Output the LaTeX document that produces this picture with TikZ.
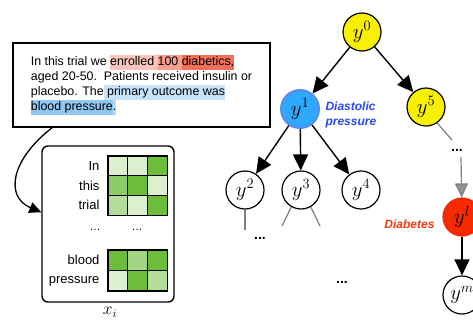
\documentclass[tikz,border=0pt]{standalone}
\usepackage{fontspec}
\setmainfont{Liberation Sans}
\usetikzlibrary{arrows.meta}

\definecolor{hlpink}{HTML}{F9C4BC}
\definecolor{hlsalmon}{HTML}{F7A08E}
\definecolor{hlred}{HTML}{F2705A}
\definecolor{hlblueA}{HTML}{C5E3FA}
\definecolor{hlblueB}{HTML}{8FC7F2}
\definecolor{hlblueC}{HTML}{B5DAF6}
\definecolor{nodeyellow}{HTML}{F8F000}
\definecolor{nodeblue}{HTML}{2EA8FA}
\definecolor{nodeblueedge}{HTML}{5A8CF0}
\definecolor{nodered}{HTML}{F52A00}
\definecolor{labelblue}{HTML}{2A46F5}
\definecolor{labelred}{HTML}{F53A10}
\definecolor{gA}{HTML}{DCEFCF}
\definecolor{gL}{HTML}{B3DE9A}
\definecolor{gM}{HTML}{8DCC66}
\definecolor{gN}{HTML}{A3D585}
\definecolor{gD}{HTML}{6BBD3A}

\newcommand{\hilite}[2]{{\setlength{\fboxsep}{0pt}\colorbox{#1}{\strut#2}}}

\begin{document}
\begin{tikzpicture}[x=1pt,y=-1pt,
  tnode/.style={circle, draw, line width=1.2pt, minimum size=38pt, inner sep=0pt, font=\fontsize{21}{21}\selectfont},
  arr/.style={-{Triangle[length=16pt,width=15pt]}, line width=1.4pt},
  stub/.style={draw=gray, line width=1.2pt},
  cell/.style={draw, line width=1.2pt},
  word/.style={anchor=east, font=\fontsize{13}{13}\selectfont},
  dots/.style={font=\fontsize{14}{14}\selectfont\bfseries}]
\useasboundingbox (0,0) rectangle (473,322);

% passage and its tail
\node (passage) [draw, line width=1.6pt, minimum width=257pt, minimum height=84pt, align=left, font=\fontsize{12.4}{15}\selectfont] at (141.5,85)
  {In this trial we \hilite{hlpink}{enrolled }\hilite{hlsalmon}{100 }\hilite{hlred}{diabetics,}\\
   aged 20-50.\ \ Patients received insulin or\\
   placebo. The\hilite{hlblueA}{ primary outcome was}\\
   \hilite{hlblueB}{blood pressure}\hilite{hlblueC}{.}};
\coordinate (tail) at (53,127);

% input matrix
\node (mtx) [draw, rounded corners=6pt, line width=1.4pt, minimum width=132pt, minimum height=156pt] at (108,224) {};
\foreach \x/\y/\c in {0/0/gA, 1/0/gA, 2/0/gD, 0/1/gM, 1/1/gD, 2/1/gA, 0/2/gL, 1/2/gA, 2/2/gD}
  \draw[cell, fill=\c] (108+19.7*\x, 156+19.7*\y) rectangle ++(19.7,19.7);
\foreach \x/\y/\c in {0/0/gD, 1/0/gN, 2/0/gD, 0/1/gA, 1/1/gD, 2/1/gL}
  \draw[cell, fill=\c] (108+19.7*\x, 250+20.5*\y) rectangle ++(19.7,20.5);
\node[word] (w-in) at (103,166) {In};
\node[word] (w-this) at (103,186) {this};
\node[word] (w-trial) at (103,205) {trial};
\node[word] (w-blood) at (103,260) {blood};
\node[word] (w-pressure) at (103,281) {pressure};
\node (dots-w) [font=\fontsize{11}{11}\selectfont] at (95,230) {\ldots};
\node (dots-v) [font=\fontsize{11}{11}\selectfont] at (137,230) {\ldots};
\node (xi) [font=\fontsize{18}{18}\selectfont, inner sep=1pt] at (110,312) {$x_i$};

\draw[line width=1.3pt, -{Triangle[length=12pt,width=11pt]}] (tail) .. controls (10,160) and (5,197) .. (mtx.170);

% label tree
\node[tnode, fill=nodeyellow] (y0) at (362,32) {$y^0$};
\node[tnode, fill=nodeblue, draw=nodeblueedge, line width=2pt] (y1) at (300,109) {$y^1$};
\node[tnode, fill=nodeyellow] (y5) at (426,107) {$y^5$};
\node[tnode] (y2) at (245,190) {$y^2$};
\node[tnode] (y3) at (301,190) {$y^3$};
\node[tnode] (y4) at (361,190) {$y^4$};
\node[tnode, fill=nodered, draw=nodered] (yl) at (462,217) {$y^l$};
\node[tnode] (ym) at (462,295) {$y^m$};

\node (diastolic) [anchor=west, align=left, text=labelblue, font=\fontsize{12}{15}\selectfont\bfseries\itshape] at (322,115) {Diastolic\\pressure};
\node (diabetes) [anchor=east, text=labelred, font=\fontsize{12}{15}\selectfont\bfseries\itshape] at (438,224) {Diabetes};

\node[dots] (dots-r) at (457,150) {...};
\node[dots] (dots-l) at (260,238) {...};
\node[dots] (dots-m) at (342,282) {...};

\path[arr]
  (y0) edge (y1)
       edge (y5)
  (y1) edge (y2)
       edge (y3)
       edge (y4)
  (yl) edge (ym);

\coordinate (y2-end) at (245,230);
\coordinate (y3-endl) at (282,226);
\coordinate (y3-endr) at (320,226);
\coordinate (y5-end) at (452,140);
\coordinate (gray-start) at (461,157);
\draw[stub] (y2.south) -- (y2-end);
\draw[stub] (y3.-120) -- (y3-endl);
\draw[stub] (y3.-60) -- (y3-endr);
\draw[stub] (y5.-55) -- (y5-end);
\draw[stub, -{Triangle[length=14pt,width=13pt,fill=gray!85]}] (gray-start) -- (yl);
\end{tikzpicture}
\end{document}
